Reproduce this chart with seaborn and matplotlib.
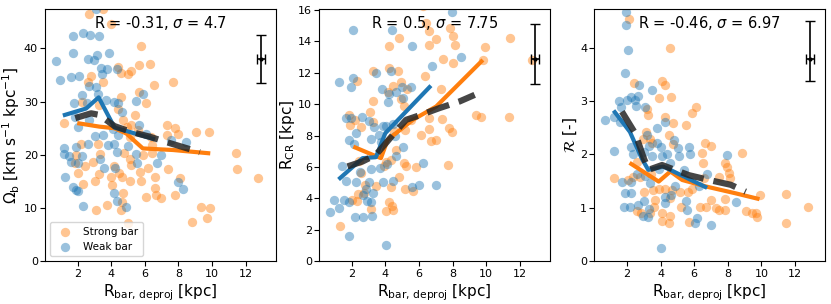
import numpy as np
import pandas as pd
import matplotlib
matplotlib.use("Agg")
import matplotlib.pyplot as plt
import seaborn as sns

# ---- data ---- #
# panel 1: Omega_b
p1_strong_x = [2.70, 3.50, 4.00, 5.79, 5.65, 6.29, 2.80, 3.53, 2.60, 4.39, 4.59, 4.99, 5.19, 6.52, 7.68, 5.65,
               6.09, 4.59, 3.29, 2.26, 4.39, 5.39, 4.69, 4.93, 5.19, 5.59, 5.09, 7.29, 7.79, 7.98, 9.07, 9.83,
               7.29, 6.39, 6.45, 6.45, 1.20, 2.20, 1.90, 1.86, 2.94, 3.19, 3.33, 4.19, 4.75, 5.13, 5.19, 4.49,
               4.63, 5.69, 6.18, 6.58, 7.38, 5.09, 5.79, 6.09, 6.58, 6.68, 6.98, 7.78, 8.08, 2.04, 2.44, 2.30,
               3.06, 3.25, 3.99, 4.05, 4.71, 4.63, 4.57, 3.10, 3.73, 4.99, 8.83, 9.37, 9.87, 9.71, 11.42, 11.46,
               12.72, 5.88]
p1_strong_y = [46.4, 47.5, 44.6, 40.5, 36.9, 37.0, 34.8, 33.7, 33.7, 36.6, 35.4, 35.2, 35.8, 33.1, 33.7, 31.9,
               29.7, 30.9, 29.4, 30.0, 28.7, 27.5, 26.5, 25.3, 25.6, 24.7, 23.4, 25.6, 25.0, 24.0, 24.2, 24.2,
               23.7, 23.4, 21.8, 20.3, 25.9, 22.0, 20.0, 18.4, 18.6, 22.0, 20.2, 17.8, 20.3, 19.3, 18.1, 16.5,
               15.9, 16.7, 17.5, 15.8, 17.3, 15.1, 15.0, 12.1, 13.7, 12.5, 11.8, 12.5, 15.7, 16.5, 17.9, 14.5,
               15.0, 16.4, 15.8, 14.3, 12.8, 11.2, 9.6, 9.6, 10.6, 7.1, 7.3, 10.1, 9.9, 8.1, 20.3, 17.3,
               15.7, 20.0]
p1_weak_x = [0.71, 0.94, 1.74, 2.30, 2.74, 3.29, 3.10, 1.74, 2.60, 3.14, 2.96, 3.89, 3.39, 3.73, 3.45, 4.33,
             1.60, 2.06, 2.26, 2.66, 3.10, 3.23, 1.80, 2.54, 3.69, 4.19, 4.39, 4.63, 5.49, 5.92, 1.86, 2.04,
             2.70, 4.09, 4.39, 3.79, 4.19, 4.33, 3.49, 3.06, 2.60, 1.90, 1.20, 1.20, 1.50, 1.60, 2.00, 2.26,
             3.35, 3.59, 4.23, 1.74, 1.90, 2.04, 1.24, 2.30, 4.15, 4.33, 4.89, 4.99, 5.53, 5.65, 6.04, 6.98,
             6.72, 7.98, 8.27, 8.43, 7.58, 5.49]
p1_weak_y = [37.6, 34.1, 42.3, 43.0, 42.6, 42.4, 47.5, 39.1, 38.1, 38.7, 37.8, 39.1, 36.4, 36.2, 35.2, 36.1,
             34.7, 34.8, 31.2, 32.9, 32.7, 31.5, 29.7, 29.7, 30.3, 30.0, 29.7, 28.1, 30.2, 31.4, 27.2, 25.3,
             26.5, 24.8, 23.7, 21.8, 22.0, 20.6, 23.7, 23.5, 22.0, 21.5, 21.3, 20.2, 19.8, 18.6, 18.4, 19.8,
             19.2, 17.6, 17.6, 14.0, 13.4, 13.1, 15.8, 10.4, 12.8, 11.3, 10.1, 21.7, 18.4, 25.6, 24.0, 20.0,
             18.4, 14.8, 13.6, 22.5, 22.8, 20.2]

# panel 2: R_CR
p2_strong_x = [6.22, 6.42, 6.62, 6.98, 6.58, 4.79, 4.23, 8.02, 8.12, 7.42, 8.02, 9.91, 9.81, 11.40, 12.74, 7.82,
               3.24, 4.23, 4.73, 2.28, 4.47, 4.93, 5.27, 6.38, 7.32, 4.13, 4.93, 3.24, 5.09, 3.08, 1.84, 2.20,
               1.88, 2.54, 3.28, 4.53, 5.19, 5.53, 6.62, 6.62, 7.36, 9.41, 9.71, 11.36, 7.78, 7.94, 7.02, 6.10,
               6.70, 4.63, 4.33, 5.09, 5.23, 5.79, 4.01, 3.91, 4.83, 5.15, 5.63, 7.72, 3.43, 2.70, 2.00, 2.28,
               3.14, 4.03, 4.23, 4.37, 4.43, 4.33, 1.30, 2.34, 2.80, 2.44, 2.54]
p2_strong_y = [16.26, 15.16, 14.63, 14.14, 13.78, 14.20, 13.72, 14.31, 13.78, 12.87, 12.65, 13.63, 12.82, 14.20, 12.82, 14.84,
               12.08, 12.29, 12.08, 11.49, 11.17, 11.44, 10.96, 11.80, 10.96, 10.74, 10.32, 10.17, 9.89, 9.47, 9.32, 8.96,
               8.68, 8.54, 8.83, 8.26, 8.36, 9.00, 8.41, 9.11, 9.05, 9.32, 9.15, 9.15, 8.47, 8.20, 7.69, 8.05,
               7.62, 7.09, 6.45, 6.28, 6.03, 5.97, 6.31, 6.03, 5.35, 4.59, 4.44, 6.14, 4.76, 4.33, 3.91, 3.80,
               3.31, 3.21, 3.74, 3.48, 3.27, 4.71, 2.25, 4.27, 4.86, 6.39, 5.61]
p2_weak_x = [2.08, 4.39, 7.98, 5.59, 8.47, 6.76, 4.33, 3.43, 1.24, 2.04, 1.94, 4.23, 4.13, 4.63, 4.97, 5.53,
             5.07, 3.79, 1.68, 1.94, 2.60, 3.04, 3.33, 3.83, 4.03, 4.43, 3.59, 2.24, 1.84, 2.14, 3.14, 3.73,
             4.59, 5.03, 4.63, 4.07, 3.69, 3.14, 1.44, 2.48, 1.64, 2.24, 3.04, 3.87, 4.43, 2.84, 3.24, 2.68,
             2.92, 3.14, 1.54, 1.80, 0.94, 1.24, 0.71, 2.20, 2.64, 3.20, 1.80, 4.03, 6.22, 5.98, 5.59, 6.98]
p2_weak_y = [14.69, 14.69, 15.84, 13.72, 12.99, 12.40, 12.12, 11.97, 11.38, 11.66, 11.06, 10.64, 10.11, 10.74, 11.06, 11.08,
             10.42, 10.96, 9.11, 9.11, 9.17, 8.90, 8.54, 8.58, 8.62, 8.75, 8.05, 8.15, 7.73, 7.47, 7.77, 7.56,
             7.94, 7.30, 6.67, 6.20, 5.92, 5.86, 6.03, 5.65, 5.12, 5.07, 5.01, 5.07, 5.12, 4.58, 4.33, 4.23,
             3.80, 3.74, 3.91, 3.74, 3.91, 3.38, 3.10, 2.80, 2.80, 2.89, 1.57, 1.04, 6.24, 4.86, 4.69, 4.86]

# panel 3: R = R_CR / R_bar
p3_strong_x = [2.10, 4.59, 2.40, 4.09, 4.29, 3.89, 4.65, 6.12, 5.89, 3.20, 3.26, 4.25, 4.73, 5.53, 4.49, 3.14,
               2.94, 3.39, 3.49, 4.73, 6.64, 6.98, 6.48, 6.54, 8.83, 7.84, 7.98, 8.08, 8.12, 7.48, 6.58, 1.26,
               2.06, 2.34, 2.60, 2.80, 3.45, 3.53, 3.89, 4.25, 3.69, 4.69, 5.13, 4.59, 5.19, 5.65, 5.89, 6.32,
               6.72, 6.98, 7.28, 7.48, 7.84, 7.82, 9.91, 9.67, 9.77, 9.11, 9.47, 11.46, 11.46, 12.76, 2.60, 2.86,
               3.39, 4.09, 4.49, 4.55, 4.09, 5.69, 3.59, 3.00]
p3_strong_y = [4.53, 4.00, 3.33, 3.38, 3.30, 3.05, 3.07, 2.89, 2.77, 2.84, 2.74, 2.70, 2.58, 2.55, 2.36, 2.42,
               2.28, 2.28, 2.21, 2.19, 2.22, 2.16, 2.03, 1.83, 2.02, 1.83, 1.76, 1.66, 1.55, 1.57, 1.55, 1.55,
               1.52, 1.58, 1.86, 1.57, 1.64, 1.33, 1.35, 1.35, 1.15, 1.33, 1.30, 1.18, 1.02, 1.30, 1.35, 1.02,
               1.01, 1.15, 0.99, 0.96, 1.16, 0.96, 1.24, 0.91, 0.83, 0.93, 0.91, 1.25, 0.71, 1.01, 0.93, 0.90,
               0.90, 0.76, 0.72, 0.85, 0.90, 0.74, 1.02, 1.30]
p3_weak_x = [1.96, 1.96, 2.06, 1.90, 1.54, 0.71, 1.26, 1.60, 1.66, 2.00, 2.26, 2.50, 2.66, 2.54, 2.70, 3.49,
             3.10, 3.20, 3.79, 4.29, 2.26, 2.34, 1.26, 3.00, 3.29, 3.79, 4.05, 3.49, 4.09, 4.39, 4.79, 5.05,
             4.59, 3.89, 5.09, 5.69, 5.75, 5.39, 4.89, 2.60, 2.26, 3.10, 3.39, 1.70, 1.86, 2.26, 1.80, 2.20,
             2.64, 3.00, 3.29, 2.96, 3.26, 4.29, 4.29, 4.65, 5.49, 5.59, 6.04, 6.18, 6.28, 6.98, 6.78, 7.98,
             8.47, 4.05]
p3_weak_y = [4.67, 4.43, 3.95, 3.53, 3.00, 2.65, 2.70, 2.61, 2.88, 3.02, 3.08, 3.02, 3.09, 2.90, 3.30, 3.21,
             2.88, 2.36, 2.49, 2.61, 2.14, 2.01, 2.06, 2.05, 2.16, 2.22, 2.14, 1.96, 1.97, 2.01, 2.27, 2.11,
             1.84, 1.72, 1.97, 2.14, 2.01, 1.71, 1.40, 1.64, 1.49, 1.59, 1.47, 1.49, 1.28, 1.27, 1.01, 1.01,
             1.05, 1.12, 0.97, 0.85, 0.83, 1.21, 1.08, 1.24, 1.12, 0.95, 0.72, 0.80, 1.40, 0.68, 1.64, 1.99,
             1.10, 0.24]

# binned trends
p1_strong_line = ([2.1, 3.29, 4.19, 4.9, 5.88, 7.68, 9.77], [25.9, 25.3, 25.0, 24.0, 21.2, 20.9, 20.3])
p1_weak_line = ([1.24, 2.5, 3.25, 4.2, 4.99, 6.48], [27.5, 28.7, 30.8, 25.1, 24.4, 23.0])
p1_all_line = ([1.86, 2.8, 3.29, 4.19, 5.19, 6.29, 7.48, 9.27], [26.9, 27.8, 27.5, 25.4, 24.3, 23.4, 22.2, 20.5])
p2_strong_line = ([2.2, 3.24, 3.73, 4.13, 5.63, 7.02, 9.71], [7.24, 6.77, 6.56, 7.73, 9.0, 9.85, 12.72])
p2_weak_line = ([1.3, 2.64, 3.43, 3.99, 6.62], [5.29, 6.56, 6.62, 8.15, 11.08])
p2_all_line = ([1.74, 2.64, 3.43, 4.03, 4.53, 5.23, 6.12, 7.22, 8.41, 9.31], [6.03, 6.35, 6.77, 7.52, 8.15, 9.0, 9.32, 9.75, 10.17, 10.59])
p3_strong_line = ([2.26, 3.89, 4.59, 5.29, 6.68, 8.47, 9.77], [1.82, 1.49, 1.68, 1.52, 1.40, 1.27, 1.17])
p3_weak_line = ([1.28, 2.18, 2.87, 3.27, 4.17, 4.77, 6.66], [2.79, 2.42, 1.93, 1.71, 1.77, 1.68, 1.39])
p3_all_line = ([1.70, 2.5, 3.0, 3.29, 4.09, 5.69, 6.88, 8.18, 9.07], [2.80, 2.39, 1.93, 1.71, 1.80, 1.61, 1.52, 1.43, 1.30])

# typical error bars: x, y, x error, (lower, upper) y error
err_x = 12.9
err_xerr = 0.25
p1_err = (38.0, 4.5, 4.5)
p2_err = (12.9, 1.6, 2.2)
p3_err = (3.78, 0.41, 0.72)

stats = ["R = -0.31, $\\sigma$ = 4.7", "R = 0.5, $\\sigma$ = 7.75", "R = -0.46, $\\sigma$ = 6.97"]
ylabels = ["$\\Omega_{\\rm b}$ [km s$^{-1}$ kpc$^{-1}$]", "R$_{\\rm CR}$ [kpc]", "$\\mathcal{R}$ [-]"]
ylims = [(0, 47.4), (0, 16.05), (0, 4.72)]

panels = [
    (p1_strong_x, p1_strong_y, p1_weak_x, p1_weak_y, p1_strong_line, p1_weak_line, p1_all_line, p1_err),
    (p2_strong_x, p2_strong_y, p2_weak_x, p2_weak_y, p2_strong_line, p2_weak_line, p2_all_line, p2_err),
    (p3_strong_x, p3_strong_y, p3_weak_x, p3_weak_y, p3_strong_line, p3_weak_line, p3_all_line, p3_err),
]

plt.rcParams["font.family"] = ["DejaVu Sans"]
plt.rcParams["mathtext.fontset"] = "dejavusans"

fig = plt.figure(figsize=(8.31, 3.04), dpi=100)
lefts = [0.054, 0.384, 0.715]

for i, (sx, sy, wx, wy, sl, wl, al, err) in enumerate(panels):
    ax = fig.add_axes([lefts[i], 0.141, 0.278, 0.829])
    sns.scatterplot(x=sx, y=sy, color="C1", alpha=0.45, s=45, linewidth=0, ax=ax, label="Strong bar")
    sns.scatterplot(x=wx, y=wy, color="C0", alpha=0.45, s=45, linewidth=0, ax=ax, label="Weak bar")
    sns.lineplot(x=sl[0], y=sl[1], sort=False, estimator=None, color="#ff7f0e", lw=3, ax=ax)
    sns.lineplot(x=wl[0], y=wl[1], sort=False, estimator=None, color="#1f77b4", lw=3, ax=ax)
    sns.lineplot(x=al[0], y=al[1], sort=False, estimator=None, color="0.15", alpha=0.85,
                 lw=4.5, linestyle="--", ax=ax)
    ax.errorbar([err_x], [err[0]], yerr=[[err[1]], [err[2]]], xerr=err_xerr,
                color="k", capsize=3.5, lw=1.2, marker=".", ms=4)
    ax.text(0.5, 0.944, stats[i], transform=ax.transAxes, ha="center", va="center", fontsize=10.5)
    ax.set_xlim(0.05, 13.8)
    ax.set_ylim(*ylims[i])
    ax.set_xticks([2, 4, 6, 8, 10, 12])
    ax.set_xlabel("R$_{\\rm bar,\\,deproj}$ [kpc]", fontsize=11, labelpad=2)
    ax.set_ylabel(ylabels[i], fontsize=11, labelpad=1)
    ax.tick_params(labelsize=8)
    ax.tick_params(axis="y", pad=1.5)
    ax.tick_params(axis="x", pad=2.5)
    if i == 0:
        ax.legend(loc="lower left", fontsize=7.5)
    else:
        ax.get_legend().remove()

fig.savefig("out.png", dpi=100)
